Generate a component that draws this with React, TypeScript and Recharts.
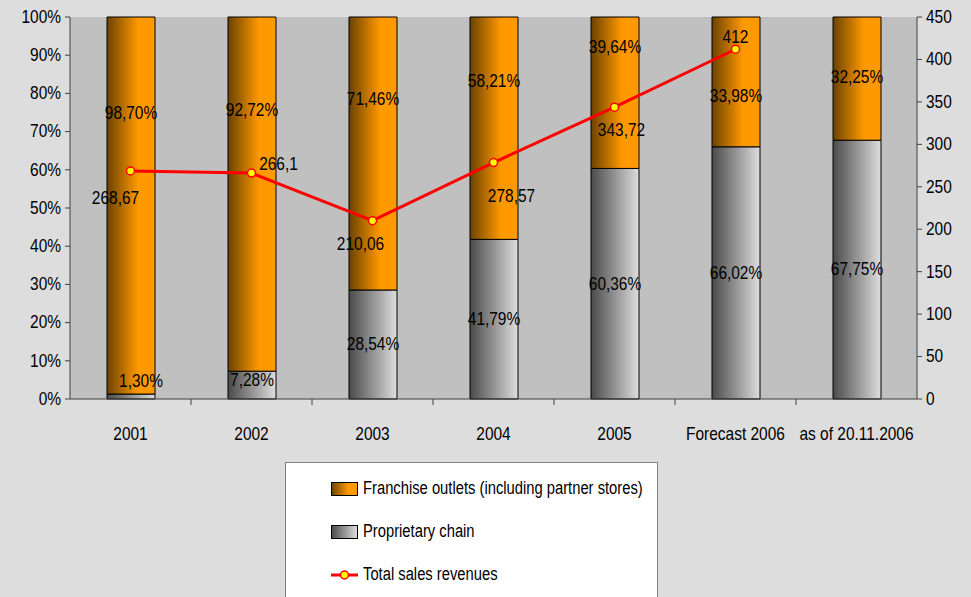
import { ComposedChart, Bar, Line, XAxis, YAxis, LabelList, CartesianGrid } from "recharts";

const categories = ["2001", "2002", "2003", "2004", "2005", "Forecast 2006", "as of 20.11.2006"];
const franchiseShare = [98.7, 92.72, 71.46, 58.21, 39.64, 33.98, 32.25];
const proprietaryShare = [1.3, 7.28, 28.54, 41.79, 60.36, 66.02, 67.75];
const totalRevenue: (number | null)[] = [268.67, 266.1, 210.06, 278.57, 343.72, 412, null];
const percentTicks = [0, 10, 20, 30, 40, 50, 60, 70, 80, 90, 100];
const revenueTicks = [0, 50, 100, 150, 200, 250, 300, 350, 400, 450];

const data = categories.map((name, i) => ({
  name,
  franchise: franchiseShare[i],
  proprietary: proprietaryShare[i],
  revenue: totalRevenue[i],
}));

// manual nudges of the labels, like the hand-moved labels in the original
const franchiseNudge = [-92, -84, -54, -47, -46, 14, -1];
const proprietaryNudge = [-15, -5, 0, 0, 0, 0, 0];
const revenueNudge = [
  [-15, 27],
  [27, -9],
  [-12, 23],
  [18, 34],
  [7, 23],
  [0, -12],
  [0, 0],
];

// no narrow font installed, so squeeze Liberation Sans a bit
const FONT = '"Liberation Sans", Arial, sans-serif';
const SQUEEZE = 0.86;
const LEG_SQUEEZE = 0.82;
const plotLeft = 70;
const plotRight = 917;
const band = (plotRight - plotLeft) / categories.length;

const pct = (v: number) => v.toFixed(2).replace(".", ",") + "%";

const NText = ({ x, y, anchor = "middle", size = 18, children }: any) => (
  <text
    transform={`translate(${x} ${y}) scale(${SQUEEZE} 1)`}
    x={0}
    y={0}
    textAnchor={anchor}
    dominantBaseline="central"
    fontFamily={FONT}
    fontSize={size}
    fill="#000"
  >
    {children}
  </text>
);

const segLabel = (nudge: number[]) => (p: any) => {
  const { x, y, width, height, value, index } = p;
  return (
    <NText x={x + width / 2 + (index === 0 && nudge === proprietaryNudge ? 10 : 0)} y={y + height / 2 + nudge[index]}>
      {pct(value)}
    </NText>
  );
};

const revLabel = (p: any) => {
  const { x, y, value, index } = p;
  if (value == null) return null;
  const [dx, dy] = revenueNudge[index];
  return (
    <NText x={x + dx} y={y + dy}>
      {String(value).replace(".", ",")}
    </NText>
  );
};

const CatTick = (p: any) => {
  const { x, y, payload, index } = p;
  return (
    <g>
      {index > 0 && <line x1={x - band / 2} x2={x - band / 2} y1={y} y2={y + 6} stroke="#404040" />}
      <NText x={x} y={y + 35}>
        {payload.value}
      </NText>
    </g>
  );
};

const LeftTick = (p: any) => (
  <NText x={p.x} y={p.y} anchor="end">
    {p.payload.value}%
  </NText>
);

const RightTick = (p: any) => (
  <NText x={p.x} y={p.y} anchor="start">
    {p.payload.value}
  </NText>
);

const Swatch = ({ id }: { id: string }) => (
  <svg width={27} height={14} style={{ marginRight: 5 }}>
    <rect x={0.5} y={0.5} width={26} height={13} fill={`url(#${id})`} stroke="#000" />
  </svg>
);

const legText = (t: string) => (
  <span style={{ display: "inline-block", transform: `scaleX(${LEG_SQUEEZE})`, transformOrigin: "left center" }}>{t}</span>
);

export default function App() {
  return (
    <div style={{ position: "absolute", left: 0, top: 0, width: 971, height: 597, background: "#dddddd", overflow: "hidden" }}>
      <svg width={0} height={0} style={{ position: "absolute" }}>
        <defs>
          <linearGradient id="orangeLeg" x1="0" y1="0" x2="1" y2="0">
            <stop offset="0%" stopColor="#6b4200" />
            <stop offset="65%" stopColor="#ff9900" />
            <stop offset="100%" stopColor="#ff9900" />
          </linearGradient>
          <linearGradient id="grayLeg" x1="0" y1="0" x2="1" y2="0">
            <stop offset="0%" stopColor="#4a4a4a" />
            <stop offset="100%" stopColor="#e0e0e0" />
          </linearGradient>
        </defs>
      </svg>
      <ComposedChart
        width={971}
        height={597}
        data={data}
        margin={{ top: 17, right: 8, left: 8, bottom: 158 }}
        barSize={48}
      >
        <defs>
          <linearGradient id="orangeFill" x1="0" y1="0" x2="1" y2="0">
            <stop offset="0%" stopColor="#6b4200" />
            <stop offset="65%" stopColor="#ff9900" />
            <stop offset="100%" stopColor="#ff9900" />
          </linearGradient>
          <linearGradient id="grayFill" x1="0" y1="0" x2="1" y2="0">
            <stop offset="0%" stopColor="#4a4a4a" />
            <stop offset="100%" stopColor="#dedede" />
          </linearGradient>
        </defs>
        <CartesianGrid fill="#c0c0c0" horizontal={false} vertical={false} />
        <XAxis
          dataKey="name"
          height={40}
          tickSize={0}
          tickMargin={0}
          tick={<CatTick />}
          axisLine={{ stroke: "#404040" }}
          interval={0}
        />
        <YAxis
          yAxisId="pct"
          width={62}
          domain={[0, 100]}
          ticks={percentTicks}
          tick={<LeftTick />}
          tickLine={{ stroke: "#404040" }}
          axisLine={{ stroke: "#404040" }}
          tickSize={5}
          tickMargin={4}
        />
        <YAxis
          yAxisId="rev"
          orientation="right"
          width={46}
          domain={[0, 450]}
          ticks={revenueTicks}
          tick={<RightTick />}
          tickLine={{ stroke: "#404040" }}
          axisLine={{ stroke: "#404040" }}
          tickSize={5}
          tickMargin={4}
        />
        <Bar yAxisId="pct" dataKey="proprietary" stackId="s" fill="url(#grayFill)" stroke="#000" strokeWidth={1} isAnimationActive={false}>
          <LabelList dataKey="proprietary" content={segLabel(proprietaryNudge)} />
        </Bar>
        <Bar yAxisId="pct" dataKey="franchise" stackId="s" fill="url(#orangeFill)" stroke="#000" strokeWidth={1} isAnimationActive={false}>
          <LabelList dataKey="franchise" content={segLabel(franchiseNudge)} />
        </Bar>
        <Line
          yAxisId="rev"
          dataKey="revenue"
          stroke="#ff0000"
          strokeWidth={3}
          dot={{ r: 4, fill: "#ffff00", stroke: "#ff0000", strokeWidth: 1.5 }}
          connectNulls={false}
          isAnimationActive={false}
        >
          <LabelList dataKey="revenue" content={revLabel} />
        </Line>
      </ComposedChart>
      <div
        style={{
          position: "absolute",
          left: 285,
          top: 462,
          width: 371,
          height: 150,
          background: "#fff",
          border: "1px solid #808080",
          fontFamily: FONT,
          fontSize: 18,
          color: "#000",
        }}
      >
        <div style={{ position: "absolute", left: 45, top: 15, display: "flex", alignItems: "center", whiteSpace: "nowrap" }}>
          <Swatch id="orangeLeg" />
          {legText("Franchise outlets (including partner stores)")}
        </div>
        <div style={{ position: "absolute", left: 45, top: 58, display: "flex", alignItems: "center", whiteSpace: "nowrap" }}>
          <Swatch id="grayLeg" />
          {legText("Proprietary chain")}
        </div>
        <div style={{ position: "absolute", left: 45, top: 101, display: "flex", alignItems: "center", whiteSpace: "nowrap" }}>
          <svg width={27} height={14} style={{ marginRight: 5 }}>
            <line x1={0} x2={27} y1={7} y2={7} stroke="#ff0000" strokeWidth={3} />
            <circle cx={13.5} cy={7} r={4} fill="#ffff00" stroke="#ff0000" strokeWidth={1.5} />
          </svg>
          {legText("Total sales revenues")}
        </div>
      </div>
    </div>
  );
}
